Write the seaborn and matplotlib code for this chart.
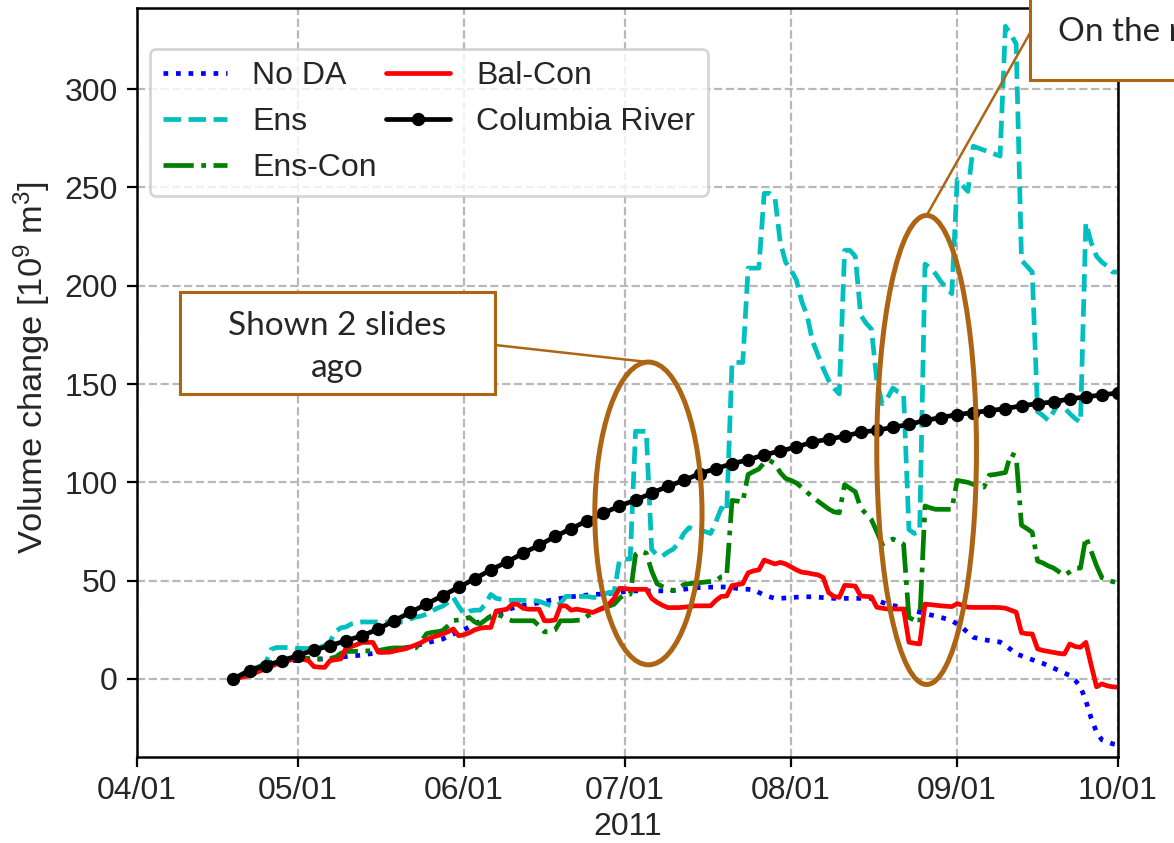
import pandas as pd
import matplotlib
matplotlib.use("Agg")
import matplotlib.pyplot as plt
import matplotlib.dates as mdates
from matplotlib.patches import Ellipse, Rectangle
import seaborn as sns

# ---------------------------------------------------------------- data
# daily values from 2011-04-19 to 2011-10-01, volume change in 10^9 m^3
dates = pd.date_range("2011-04-19", "2011-10-01", freq="D")
river_dates = pd.date_range("2011-04-19", "2011-10-01", freq="3D")

no_da = [
    0, 1, 2, 3, 4, 5, 6, 7, 8, 8.7,
    9.2, 9.3, 9.5, 9.7, 9.9, 10, 10.1, 10.2, 10.5, 10.8,
    11.1, 11.4, 11.7, 11.9, 12.2, 12.6, 13, 13.4, 13.8, 14.2,
    14.7, 15.2, 15.8, 16.4, 17, 17.6, 18.3, 19, 19.6, 20.3,
    21.5, 22.8, 24, 25, 26.5, 28, 29.3, 30.5, 31.5, 32.5,
    34, 35, 36, 36.8, 37.4, 37.8, 38.2, 38.8, 39.4, 40,
    40.5, 41, 41.4, 41.8, 42.1, 42.4, 42.7, 43, 43.1, 43.2,
    43.5, 43.8, 44.1, 44.4, 44.7, 44.8, 44.8, 44.8, 44.8, 44.8,
    44.8, 44.8, 45, 45.3, 45.6, 46, 46.3, 46.5, 46.6, 46.7,
    46.8, 46.8, 46.8, 46.5, 46, 45.8, 45.6, 45.4, 44, 42.7,
    41.8, 41, 41, 41.2, 41.4, 41.6, 41.8, 41.8, 41.8, 41.6,
    41.4, 41.2, 41, 41, 41, 41, 41, 41, 41, 41,
    40, 39, 38, 37.4, 36.8, 36, 35.3, 34.7, 34, 33.3,
    32.6, 32, 31.3, 30.5, 29.5, 28, 26, 23.5, 21.2, 20.6,
    20, 19.5, 19.1, 18.8, 17, 15, 12.8, 11.8, 10.8, 9.8,
    8.8, 7.9, 6.7, 5.5, 4.3, 3, 1.8, -0.6, -4, -11,
    -20, -27, -31, -32, -33, -33.5,
]

ens = [
    0, 1.5, 3, 4, 5, 6.5, 8, 15, 16, 16,
    16, 16, 15.5, 15.5, 15.5, 16, 16, 17, 19, 24,
    26, 26.5, 28, 28.5, 29, 29, 29, 29, 29, 29,
    29, 29, 29, 30.5, 31.5, 32, 33, 34.5, 36, 37,
    39, 41.5, 37, 33, 34.5, 35, 35, 38, 43, 41,
    40.5, 40, 40, 40, 40, 40, 40, 39.5, 38.5, 37.5,
    37, 38.5, 42, 42, 42, 42, 42, 41.5, 41.5, 43,
    44, 44, 60.5, 61, 61, 126, 126, 126, 66, 63,
    62.5, 64.5, 66, 69, 74, 77, 76, 75.5, 75, 74,
    80, 87, 85, 161, 161, 161, 209, 209, 209, 247,
    247, 245, 222, 212, 208, 203, 192, 185, 172, 165,
    158, 152, 148, 145, 218, 218, 215, 185, 181, 178,
    152, 140, 143, 148, 146, 145, 76, 74, 75, 211,
    209, 206, 202, 199, 196, 254, 251, 248, 271, 270,
    269, 268, 267, 266, 332, 328, 323, 213, 210, 207,
    136, 134, 131.5, 136, 141, 138, 135, 132.5, 130.5, 232,
    222, 215, 212, 210, 207, 207,
]

ens_con = [
    0, 1.5, 3, 4.5, 5.5, 6.5, 7.5, 8.5, 9, 9.3,
    10, 10.5, 10.5, 10.5, 10.5, 10.2, 10.2, 10.2, 10.2, 11,
    13, 14, 14, 14.1, 14.2, 14.3, 14.4, 14.4, 15, 15.5,
    15.8, 15.8, 15.8, 15.8, 15.8, 19, 23, 23.7, 24, 24.6,
    27, 29.7, 30, 30.5, 31.3, 29, 28, 30, 32, 33,
    32, 30.5, 29.6, 29.6, 29.6, 29.6, 29.6, 27, 24, 24,
    25, 29.6, 29.6, 29.6, 29.8, 30, 32, 33.5, 35, 36.3,
    37, 38, 41, 43.1, 43.1, 63.3, 65, 64, 55, 48.5,
    47, 46, 45, 46, 48, 48.5, 48.7, 49, 49.3, 49.6,
    50, 52, 52.5, 90.8, 90.5, 90, 104, 105.5, 106.8, 110,
    111.2, 109.5, 105, 102, 101, 99.7, 97.5, 95, 92.6, 90.5,
    88.5, 86.5, 85, 84.5, 98.8, 97, 95.2, 87, 84, 81,
    75, 68.5, 70, 71.2, 70, 68.5, 31.2, 30, 28.5, 88,
    87, 86.3, 86.3, 86.3, 86.3, 101, 100.5, 100, 99, 98,
    97.6, 103.7, 104, 104.5, 105, 114.6, 113.3, 78.2, 76.5, 74.6,
    60, 59, 57.5, 56.4, 54.5, 52.7, 54.5, 56.4, 56.4, 72.2,
    65, 57.6, 51.5, 50.5, 49.5, 49,
]

bal_con = [
    0, 0.5, 1.2, 1.7, 3, 4.2, 5.1, 6.5, 7.5, 8.5,
    9.3, 9.8, 10.2, 10, 9.3, 6.3, 6, 5.9, 9.3, 9.8,
    10.2, 15.8, 16.5, 17.5, 18.6, 18.6, 18.6, 13.6, 13.6, 13.6,
    14.2, 14.8, 15.3, 16.3, 17.3, 18.5, 20, 21.2, 22, 22.9,
    24, 25.4, 22, 22.5, 23.5, 25, 25.8, 26.2, 26.2, 34.6,
    35, 35.5, 38, 38, 36, 35.5, 35.5, 35.5, 29.6, 29.6,
    30, 37.2, 37.2, 35, 35.5, 35, 34.5, 33.8, 35, 36,
    38, 41, 46.1, 46, 45.6, 45.6, 45.6, 45.6, 41, 39,
    37.5, 36.3, 36.3, 36.3, 36.5, 36.8, 37.2, 37.2, 37.2, 37.2,
    40, 42, 42.2, 47.5, 48, 48.5, 54, 55, 55.5, 60.5,
    59.5, 58.5, 59.3, 58.5, 57, 55.5, 54.3, 54, 53.4, 53,
    51.6, 44, 42, 41.5, 47.6, 47.5, 47.2, 42.2, 42, 41.8,
    36.5, 36, 35.6, 35.6, 35.6, 35.6, 18.7, 18.2, 17.8, 38.1,
    37.8, 37.5, 37.2, 37, 36.8, 38.3, 37.5, 36.5, 36.4, 36.4,
    36.4, 36.4, 36.4, 36.3, 36, 35, 34, 23.5, 23, 22.9,
    15.3, 14.5, 14, 13.5, 13, 12.7, 17.8, 16.5, 16.1, 18.6,
    7, -4, -2.5, -3.5, -4, -4.2,
]

# Columbia River inflow volume, every third day
columbia = [
    0, 4.2, 6.8, 9.3, 11.9, 14.7, 16.9, 19.5, 22, 25.4,
    29.7, 33.9, 38.1, 42.4, 46.6, 51, 55.5, 59.5, 64, 68,
    72.5, 76.5, 80.5, 84.3, 88, 91, 94.5, 98, 101, 104.5,
    107, 109.5, 111.5, 114, 116, 118, 120.5, 122, 123.5, 125.5,
    126.5, 128, 129.5, 131.5, 133, 134.5, 135.5, 136.5, 137.5, 139,
    140, 141, 142.5, 143.5, 144.5, 145.5,
]

month_ticks = pd.date_range("2011-04-01", "2011-10-01", freq="MS")
y_ticks = [0, 50, 100, 150, 200, 250, 300]

callout_left = "Shown 2 slides\nago"
callout_right = "On the r"

# ---------------------------------------------------------------- style
sns.set_theme(style="ticks")
plt.rcParams["font.family"] = ["Liberation Sans", "DejaVu Sans"]
plt.rcParams["mathtext.fontset"] = "custom"
plt.rcParams["mathtext.rm"] = "Liberation Sans"
plt.rcParams["mathtext.it"] = "Liberation Sans:italic"
plt.rcParams["mathtext.bf"] = "Liberation Sans:bold"

FS = 11.5
BROWN = "#AD6513"
CYAN = "#00BFBF"

fig, ax = plt.subplots(figsize=(5.87, 4.215), dpi=200)
fig.subplots_adjust(left=0.1167, right=0.9523, bottom=0.102, top=0.9905)

lw = 1.7
sns.lineplot(x=dates, y=no_da, ax=ax, color="#0000FF", linestyle=":", lw=lw, label="No DA")
sns.lineplot(x=dates, y=ens, ax=ax, color=CYAN, linestyle="--", lw=lw, label="Ens")
sns.lineplot(x=dates, y=ens_con, ax=ax, color="#008000", linestyle="-.", lw=lw, label="Ens-Con")
sns.lineplot(x=dates, y=bal_con, ax=ax, color="#FF0000", linestyle="-", lw=lw, label="Bal-Con")
sns.lineplot(x=river_dates, y=columbia, ax=ax, color="black", linestyle="-", lw=lw,
             marker="o", markersize=4.8, markeredgewidth=0, label="Columbia River")

ax.set_xlim(month_ticks[0], month_ticks[-1])
ax.set_ylim(-39.7, 341.3)
ax.set_xticks(month_ticks)
ax.xaxis.set_major_formatter(mdates.DateFormatter("%m/%d"))
ax.set_yticks(y_ticks)
ax.tick_params(axis="both", labelsize=FS, direction="out", length=3.5, width=0.8,
               color="black", top=False, right=False)
ax.set_xlabel("2011", fontsize=FS, labelpad=2)
ax.set_ylabel("Volume change [10$^9$ m$^3$]", fontsize=12.4)
ax.yaxis.set_label_coords(-0.086, 0.52)
ax.grid(True, linestyle="--", color="#b8b8b8", lw=0.8)
for s in ax.spines.values():
    s.set_visible(True)
    s.set_color("black")
    s.set_linewidth(0.9)

ax.legend(loc="upper left", bbox_to_anchor=(0.0133, 0.9457), borderaxespad=0,
          ncol=2, fontsize=FS, columnspacing=0.3, handlelength=2.0,
          handletextpad=0.8, frameon=True, fancybox=True, framealpha=0.8,
          edgecolor="0.8")

# ---------------------------------------------------------------- callouts
def fig_xy(px, py):
    """pixel position (from top-left) -> figure fraction"""
    return px / 1174.0, 1.0 - py / 843.0

e1_center = pd.Timestamp("2011-07-05 09:36")
e1_w, e1_val, e1_h = 20.0, 84.2, 154.0
e2_center = pd.Timestamp("2011-08-26 07:12")
e2_w, e2_val, e2_h = 18.6, 116.5, 238.6

for c, w, v, h in [(e1_center, e1_w, e1_val, e1_h), (e2_center, e2_w, e2_val, e2_h)]:
    ax.add_patch(Ellipse((mdates.date2num(c), v), w, h, fill=False,
                         edgecolor=BROWN, lw=1.8, zorder=6, clip_on=False))

# leader lines from boxes to ellipse tops
for c, v, h, (px, py) in [(e1_center, e1_val, e1_h, (495, 345)),
                          (e2_center, e2_val, e2_h, (1030, 33))]:
    ax.annotate("", xy=(mdates.date2num(c), v + h / 2), xycoords="data",
                xytext=fig_xy(px, py), textcoords="figure fraction",
                arrowprops=dict(arrowstyle="-", color=BROWN, lw=0.9,
                                shrinkA=0, shrinkB=0), zorder=7)

# box 1
x0, y0 = fig_xy(180, 394)
x1, y1 = fig_xy(495, 292)
fig.add_artist(Rectangle((x0, y0), x1 - x0, y1 - y0, transform=fig.transFigure,
                         facecolor="white", edgecolor=BROWN, lw=1.1, zorder=8))
tx, ty = fig_xy(337, 347)
fig.text(tx, ty, callout_left, ha="center", va="center",
         fontsize=12, family=["Lato", "DejaVu Sans"], linespacing=1.5, zorder=9)

# box 2 (runs off the top-right corner)
x0, y0 = fig_xy(1030, 80)
fig.add_artist(Rectangle((x0, y0), 0.3, 0.3, transform=fig.transFigure,
                         facecolor="white", edgecolor=BROWN, lw=1.1, zorder=8))
tx, ty = fig_xy(1058, 32)
fig.text(tx, ty, callout_right, ha="left", va="center", fontsize=12,
         family=["Lato", "DejaVu Sans"], zorder=9)

fig.savefig("out.png", dpi=200)
